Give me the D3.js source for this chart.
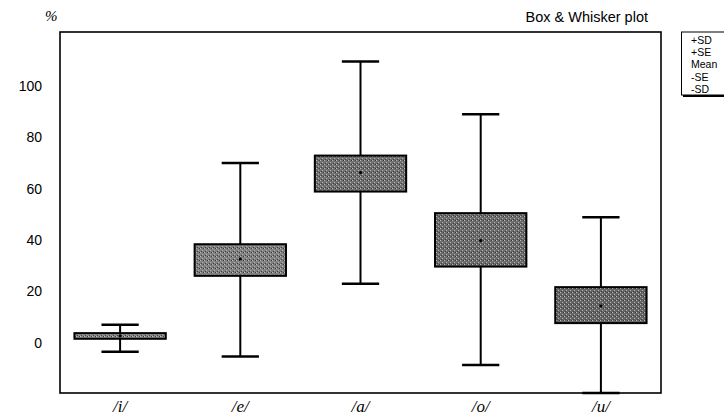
<!DOCTYPE html>
<html><head><meta charset="utf-8">
<script src="https://cdn.jsdelivr.net/npm/d3@7"></script>
<style>body{margin:0;background:#fff}</style>
</head><body>
<script>
const categories = ["/i/", "/e/", "/a/", "/o/", "/u/"];
const sdHigh = [7.1, 70.0, 109.5, 89.0, 48.9];
const seHigh = [3.8, 38.4, 72.9, 50.5, 21.7];
const meanVals = [2.7, 32.7, 66.3, 39.8, 14.4];
const seLow = [1.6, 26.1, 58.9, 29.7, 7.7];
const sdLow = [-3.4, -5.3, 23.0, -8.6, -19.5];
const yTicks = [0, 20, 40, 60, 80, 100];
const legendItems = ["+SD", "+SE", "Mean", "-SE", "-SD"];
const fills = ["#8c8c8c", "#808080", "#707070", "#6c6c6c", "#666666"];

const W = 724, H = 420;
const svg = d3.select("body").append("svg").attr("width", W).attr("height", H);
const L = 60, R = 661, T = 32, B = 393;
const x = d3.scaleBand().domain(categories).range([L, R]).padding(0);
const y = d3.scaleLinear().domain([-19.5, 121]).range([B, T]);

// stipple pattern
const defs = svg.append("defs");
fills.forEach((f, i) => {
  const p = defs.append("pattern").attr("id", "st" + i).attr("width", 4).attr("height", 4).attr("patternUnits", "userSpaceOnUse");
  p.append("rect").attr("width", 4).attr("height", 4).attr("fill", f);
  p.append("rect").attr("x", 0).attr("y", 0).attr("width", 1).attr("height", 1).attr("fill", "#bbbbbb");
  p.append("rect").attr("x", 2).attr("y", 2).attr("width", 1).attr("height", 1).attr("fill", "#b0b0b0");
  p.append("rect").attr("x", 3).attr("y", 0).attr("width", 1).attr("height", 1).attr("fill", "#3a3a3a");
  p.append("rect").attr("x", 1).attr("y", 3).attr("width", 1).attr("height", 1).attr("fill", "#404040");
});

const data = categories.map((c, i) => ({c, sdH: sdHigh[i], seH: seHigh[i], m: meanVals[i], seL: seLow[i], sdL: sdLow[i], i}));
const bw = x.bandwidth();
const boxW = bw * 0.76, capW = bw * 0.31;

const g = svg.append("g");
data.forEach(d => {
  const cx = x(d.c) + bw / 2;
  g.append("line").attr("x1", cx).attr("x2", cx).attr("y1", y(d.sdH)).attr("y2", y(d.sdL)).attr("stroke", "#000").attr("stroke-width", 2);
  g.append("line").attr("x1", cx - capW/2).attr("x2", cx + capW/2).attr("y1", y(d.sdH)).attr("y2", y(d.sdH)).attr("stroke", "#000").attr("stroke-width", 2.5);
  g.append("line").attr("x1", cx - capW/2).attr("x2", cx + capW/2).attr("y1", y(d.sdL)).attr("y2", y(d.sdL)).attr("stroke", "#000").attr("stroke-width", 2.5);
  g.append("rect").attr("x", cx - boxW/2).attr("width", boxW).attr("y", y(d.seH)).attr("height", y(d.seL) - y(d.seH))
    .attr("fill", `url(#st${d.i})`).attr("stroke", "#000").attr("stroke-width", 2);
  g.append("circle").attr("cx", cx).attr("cy", y(d.m)).attr("r", 1.6).attr("fill", "#000");
});

// frame
svg.append("rect").attr("x", L).attr("y", T).attr("width", R - L).attr("height", B - T)
  .attr("fill", "none").attr("stroke", "#000").attr("stroke-width", 1.6);

// y axis labels
const yAxis = d3.axisLeft(y).tickValues(yTicks).tickSize(0).tickPadding(18);
const ya = svg.append("g").attr("transform", `translate(${L},0)`).call(yAxis);
ya.select(".domain").remove();
ya.selectAll("text").attr("font-family", "Liberation Sans, Arial, sans-serif").attr("font-size", 14).attr("fill", "#000");

// x axis labels
const xAxis = d3.axisBottom(x).tickSize(0).tickPadding(7);
const xa = svg.append("g").attr("transform", `translate(0,${B})`).call(xAxis);
xa.select(".domain").remove();
xa.selectAll("text").attr("font-family", "Liberation Serif, Times New Roman, serif").attr("font-style", "italic")
  .attr("font-size", 17).attr("fill", "#000");

// titles
svg.append("text").attr("x", 45).attr("y", 21).text("%").attr("font-family", "Liberation Serif, serif")
  .attr("font-style", "italic").attr("font-size", 15);
svg.append("text").attr("x", 648).attr("y", 22).attr("text-anchor", "end").text("Box & Whisker plot")
  .attr("font-family", "Liberation Sans, Arial, sans-serif").attr("font-size", 14.5);

// legend
const lg = svg.append("g");
lg.append("rect").attr("x", 683).attr("y", 34).attr("width", 60).attr("height", 63).attr("fill", "#000");
lg.append("rect").attr("x", 681.5).attr("y", 32).attr("width", 60).attr("height", 63).attr("fill", "#fff").attr("stroke", "#000").attr("stroke-width", 1);
legendItems.forEach((t, i) => {
  lg.append("text").attr("x", 691).attr("y", 44 + i * 12.2).text(t)
    .attr("font-family", "Liberation Sans, Arial, sans-serif").attr("font-size", 10.5);
});
</script>
</body></html>
